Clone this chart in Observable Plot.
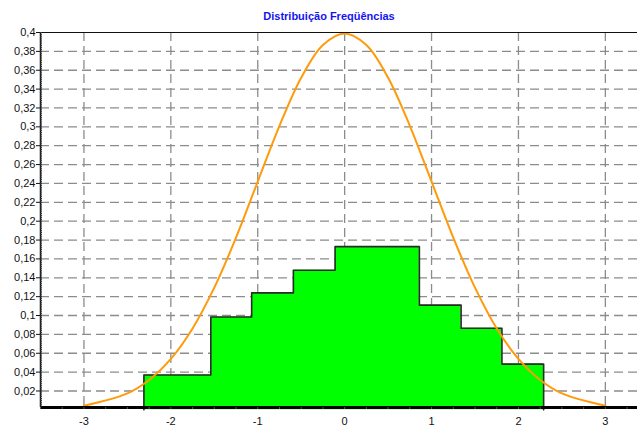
<!DOCTYPE html>
<html>
<head>
<meta charset="utf-8">
<script src="https://cdn.jsdelivr.net/npm/d3@7"></script>
<script src="https://cdn.jsdelivr.net/npm/@observablehq/plot@0.6"></script>
<style>
  html, body { margin: 0; padding: 0; background: #fff; overflow: hidden; }
  #wrap { position: relative; width: 637px; height: 428px; }
  #title { position: absolute; top: 10px; left: 0; width: 658px; text-align: center;
    font: bold 11px "Liberation Sans", Arial, sans-serif; line-height: 13px; color: #1414f0; }
</style>
</head>
<body>
<div id="wrap">
  <div id="title">Distribuição Freqüências</div>
</div>
<script>
// Histogram (bin edges and relative frequencies)
const binEdges = [-2.31, -1.54, -1.07, -0.59, -0.11, 0.86, 1.34, 1.81, 2.29];
const binHeights = [0.037, 0.0985, 0.124, 0.148, 0.173, 0.111, 0.0865, 0.0485];

// Normal curve points
const curveX = [-3, -2.5, -2.25, -2, -1.75, -1.5, -1.25, -1, -0.75, -0.5, -0.25, 0,
                0.25, 0.5, 0.75, 1, 1.25, 1.5, 1.75, 2, 2.25, 2.5, 3];
const curveY = [0.0044, 0.0175, 0.0317, 0.054, 0.0863, 0.1295, 0.1826, 0.242, 0.3011, 0.3521, 0.3867, 0.3989,
                0.3867, 0.3521, 0.3011, 0.242, 0.1826, 0.1295, 0.0863, 0.054, 0.0317, 0.0175, 0.0044];

// Tick values
const xTicks = [-3, -2, -1, 0, 1, 2, 3];
const yTicks = [0.02, 0.04, 0.06, 0.08, 0.1, 0.12, 0.14, 0.16, 0.18, 0.2,
                0.22, 0.24, 0.26, 0.28, 0.3, 0.32, 0.34, 0.36, 0.38, 0.4];

const xDomain = [-3.5, 3.37];
const yDomain = [0.0025, 0.4];

const last = binHeights.length - 1;
const steps = binHeights.map((h, i) => ({x: binEdges[i], y: h}))
  .concat([{x: binEdges[last + 1], y: binHeights[last]}]);
const outline = [{x: binEdges[0], y: 0}]
  .concat(binHeights.map((h, i) => ({x: binEdges[i], y: h})))
  .concat([{x: binEdges[last + 1], y: 0}]);
const curve = curveX.map((x, i) => ({x, y: curveY[i]}));

const minorY = d3.range(0.004, 0.4001, 0.002);
const minorX = d3.range(-3.5, 3.37, 0.25);
const fmt = d => String(+d.toFixed(2)).replace(".", ",");

const chart = Plot.plot({
  width: 637,
  height: 428,
  marginLeft: 40,
  marginRight: 0,
  marginTop: 32,
  marginBottom: 21,
  style: {fontFamily: "'Liberation Sans', Arial, sans-serif", fontSize: "11px", color: "#222", background: "transparent"},
  x: {domain: xDomain, label: null},
  y: {domain: yDomain, label: null},
  marks: [
    Plot.ruleX(xTicks, {stroke: "#8c8c8c", strokeWidth: 1.3, strokeDasharray: "9,5"}),
    Plot.ruleY(yTicks.slice(0, -1), {stroke: "#8c8c8c", strokeWidth: 1.3, strokeDasharray: "9,5"}),
    Plot.areaY(steps, {x: "x", y1: 0, y2: "y", curve: "step-after", fill: "#00ff00"}),
    Plot.line(outline, {x: "x", y: "y", curve: "step-after", stroke: "#2a2a2a", strokeWidth: 1.6}),
    Plot.line(curve, {x: "x", y: "y", curve: "catmull-rom", stroke: "#ff9a0a", strokeWidth: 2}),
    Plot.ruleY([yDomain[1]], {stroke: "#111", strokeWidth: 1}),
    Plot.ruleX([xDomain[0]], {stroke: "#111", strokeWidth: 1.5}),
    Plot.ruleY([yDomain[0]], {stroke: "#000", strokeWidth: 3}),
    Plot.axisY(minorY, {tickSize: -2, text: null, label: null, stroke: "#333"}),
    Plot.axisY(yTicks, {tickSize: 4, tickPadding: 1, tickFormat: fmt, label: null, fontSize: 11, stroke: "#111", fill: "#111"}),
    Plot.axisX(minorX, {tickSize: 2, text: null, label: null, stroke: "#555"}),
    Plot.axisX(xTicks, {tickSize: 0, tickPadding: 10, tickFormat: d => String(d), label: null, fontSize: 11, fill: "#111"})
  ]
});
document.getElementById("wrap").appendChild(chart);
chart.style.position = "absolute";
chart.style.left = "0";
chart.style.top = "0";
</script>
</body>
</html>
